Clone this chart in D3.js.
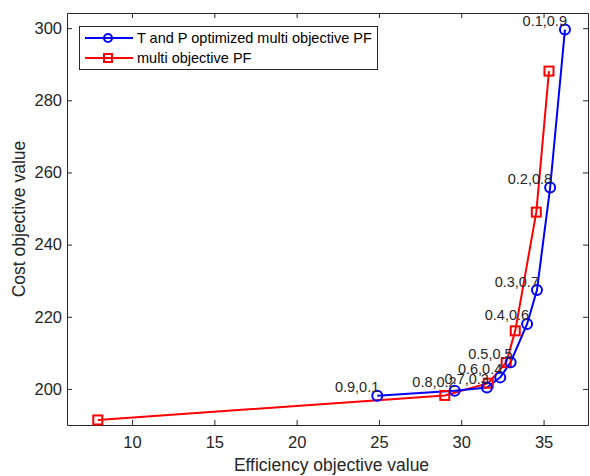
<!DOCTYPE html>
<html><head><meta charset="utf-8">
<script src="https://cdn.jsdelivr.net/npm/d3@7"></script>
<style>body{margin:0;background:#fff}svg{display:block}</style>
</head><body>
<svg id="c" width="590" height="476"></svg>
<script>
const blueX = [36.3, 35.4, 34.6, 34.0, 33.0, 32.37, 31.56, 29.6, 24.9];
const blueY = [299.6, 255.8, 227.4, 218.0, 207.4, 203.2, 200.4, 199.5, 198.1];
const blueLabels = ["0.1,0.9","0.2,0.8","0.3,0.7","0.4,0.6","0.5,0.5","0.6,0.4","0.7,0.3","0.8,0.2","0.9,0.1"];
const redX = [35.33, 34.56, 33.28, 32.73, 31.64, 29.0, 7.92];
const redY = [288.1, 249.0, 216.1, 207.3, 201.6, 198.2, 191.4];
const xTicks = [10, 15, 20, 25, 30, 35];
const yTicks = [200, 220, 240, 260, 280, 300];
const seriesNames = ["T and P optimized multi objective PF", "multi objective PF"];

const L = 67, R = 588, T = 13, B = 425;
const svg = d3.select("#c");
const x = d3.scaleLinear().domain([6.05, 37.7]).range([L, R]);
const y = d3.scaleLinear().domain([190.0, 304.2]).range([B, T]);
const axCol = "#262626";
const font = "Liberation Sans, Arial, sans-serif";

// axes
const gx = svg.append("g").attr("transform", `translate(0,${B})`)
  .call(d3.axisBottom(x).tickValues(xTicks).tickSizeInner(-5).tickSizeOuter(0).tickPadding(11));
const gy = svg.append("g").attr("transform", `translate(${L},0)`)
  .call(d3.axisLeft(y).tickValues(yTicks).tickSizeInner(-5).tickSizeOuter(0).tickPadding(5));
const gxt = svg.append("g").attr("transform", `translate(0,${T})`)
  .call(d3.axisTop(x).tickValues(xTicks).tickSizeInner(-5).tickSizeOuter(0).tickFormat(""));
const gyr = svg.append("g").attr("transform", `translate(${R},0)`)
  .call(d3.axisRight(y).tickValues(yTicks).tickSizeInner(-5).tickSizeOuter(0).tickFormat(""));
[gx, gy, gxt, gyr].forEach(g => {
  g.select(".domain").attr("stroke", axCol).attr("stroke-width", 1);
  g.selectAll(".tick line").attr("stroke", axCol);
  g.selectAll(".tick text").attr("fill", axCol).style("font-family", font).style("font-size", "16.5px");
});

svg.append("text").attr("x", (L + R) / 2 + 4).attr("y", 471).attr("text-anchor", "middle")
  .attr("fill", axCol).style("font-family", font).style("font-size", "17.5px").text("Efficiency objective value");
svg.append("text").attr("transform", `translate(25,${(T + B) / 2}) rotate(-90)`).attr("text-anchor", "middle")
  .attr("fill", axCol).style("font-family", font).style("font-size", "17.5px").text("Cost objective value");

const blue = "#0000ff", red = "#ff0000";
const line = d3.line().x(d => x(d[0])).y(d => y(d[1]));
const bData = blueX.map((v, i) => [v, blueY[i]]);
const rData = redX.map((v, i) => [v, redY[i]]);

svg.append("path").datum(rData).attr("d", line).attr("fill", "none").attr("stroke", red).attr("stroke-width", 2);
svg.append("path").datum(bData).attr("d", line).attr("fill", "none").attr("stroke", blue).attr("stroke-width", 2);

svg.selectAll(".rsq").data(rData).enter().append("rect")
  .attr("x", d => x(d[0]) - 4.5).attr("y", d => y(d[1]) - 4.5).attr("width", 9).attr("height", 9)
  .attr("fill", "none").attr("stroke", red).attr("stroke-width", 2);
svg.selectAll(".bci").data(bData).enter().append("circle")
  .attr("cx", d => x(d[0])).attr("cy", d => y(d[1])).attr("r", 5)
  .attr("fill", "none").attr("stroke", blue).attr("stroke-width", 2);

svg.selectAll(".lbl").data(bData).enter().append("text")
  .attr("x", d => x(d[0]) + 2).attr("y", d => y(d[1]) - 3.5).attr("text-anchor", "end")
  .attr("fill", "#262626").style("font-family", font).style("font-size", "14.5px")
  .text((d, i) => blueLabels[i]);

// legend
const lg = svg.append("g");
lg.append("rect").attr("x", 79.5).attr("y", 26.5).attr("width", 298).attr("height", 43)
  .attr("fill", "#fff").attr("stroke", axCol).attr("stroke-width", 1);
[[blue, "circle"], [red, "square"]].forEach((s, i) => {
  const cy = 38 + i * 20;
  lg.append("line").attr("x1", 85).attr("x2", 133).attr("y1", cy).attr("y2", cy).attr("stroke", s[0]).attr("stroke-width", 2);
  if (s[1] === "circle") lg.append("circle").attr("cx", 108).attr("cy", cy).attr("r", 4).attr("fill", "none").attr("stroke", s[0]).attr("stroke-width", 2);
  else lg.append("rect").attr("x", 104).attr("y", cy - 4).attr("width", 8).attr("height", 8).attr("fill", "none").attr("stroke", s[0]).attr("stroke-width", 2);
  lg.append("text").attr("x", 137).attr("y", cy + 5).attr("fill", "#000").style("font-family", font).style("font-size", "14.5px").text(seriesNames[i]);
});
</script>
</body></html>
